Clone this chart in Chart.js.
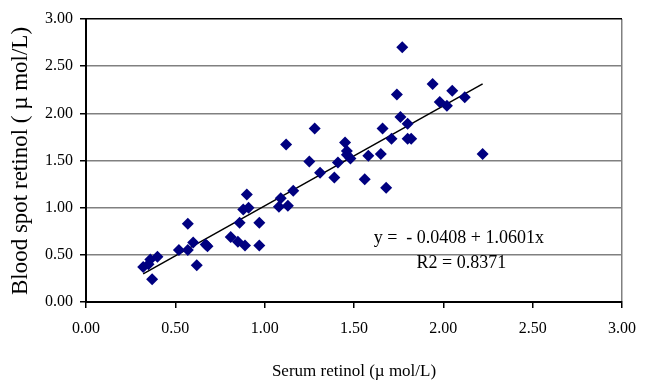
<!DOCTYPE html>
<html>
<head>
  <meta charset="utf-8">
  <title>Serum retinol vs blood spot retinol</title>
  <style>
    body { margin: 0; background: #fff; }
  </style>
</head>
<body>
<canvas id="myChart" width="647" height="383"></canvas>
<script src="https://cdn.jsdelivr.net/npm/chart.js"></script>
<script>
  // dane (µmol/L)
  const serumRetinol = [0.32, 0.35, 0.36, 0.40, 0.37, 0.52, 0.57, 0.57, 0.60, 0.62,
    0.67, 0.68, 0.81, 0.85, 0.86, 0.88, 0.91, 0.90, 0.97, 0.97,
    0.89, 1.08, 1.09, 1.13, 1.16, 1.12, 1.25, 1.28, 1.31, 1.39,
    1.41, 1.45, 1.46, 1.46, 1.48, 1.56, 1.58, 1.65, 1.66, 1.68,
    1.71, 1.74, 1.76, 1.77, 1.80, 1.80, 1.82, 1.94, 1.98, 2.02,
    2.05, 2.12, 2.22];
  const bloodSpotRetinol = [0.37, 0.40, 0.45, 0.48, 0.24, 0.55, 0.55, 0.83, 0.63, 0.39,
    0.61, 0.59, 0.69, 0.64, 0.84, 0.98, 1.00, 1.14, 0.84, 0.60,
    0.60, 1.01, 1.10, 1.02, 1.18, 1.67, 1.49, 1.84, 1.37, 1.32,
    1.48, 1.69, 1.60, 1.56, 1.52, 1.30, 1.55, 1.57, 1.84, 1.21,
    1.73, 2.20, 1.96, 2.70, 1.89, 1.73, 1.73, 2.31, 2.12, 2.08,
    2.24, 2.17, 1.57];
  const axisTicks = [0, 0.5, 1, 1.5, 2, 2.5, 3];

  // linia trendu z równania podanego na wykresie
  const fitIntercept = -0.0408;
  const fitSlope = 1.0601;
  const fitR2 = 0.8371;
  const fitRange = [0.32, 2.22];

  const points = serumRetinol.map((x, i) => ({ x: x, y: bloodSpotRetinol[i] }));
  const fitLine = fitRange.map(x => ({ x: x, y: fitIntercept + fitSlope * x }));

  const serif = 'Liberation Serif, Times New Roman, serif';
  const tickFont = { family: serif, size: 16 };

  function setTicks(scale) {
    scale.ticks = axisTicks.map(v => ({ value: v }));
  }

  // tekst równania i tytuł osi Y (rysowane ręcznie)
  const extraText = {
    id: 'extraText',
    afterDatasetsDraw(chart) {
      const ctx = chart.ctx;
      const xs = chart.scales.x, ys = chart.scales.y;
      ctx.save();
      ctx.fillStyle = '#000';
      ctx.font = '18px ' + serif;
      ctx.textAlign = 'left';
      ctx.textBaseline = 'middle';
      ctx.fillText('y =  - ' + Math.abs(fitIntercept).toFixed(4) + ' + ' + fitSlope.toFixed(4) + 'x',
        xs.getPixelForValue(1.61), ys.getPixelForValue(0.68));
      ctx.fillText('R2 = ' + fitR2.toFixed(4), xs.getPixelForValue(1.85), ys.getPixelForValue(0.41));

      ctx.translate(21, 161);
      ctx.rotate(-Math.PI / 2);
      ctx.font = '23px ' + serif;
      ctx.textAlign = 'center';
      ctx.fillText('Blood spot retinol ( µ mol/L)', 0, 0);
      ctx.restore();
    }
  };

  new Chart(document.getElementById('myChart'), {
    type: 'scatter',
    data: {
      datasets: [{
        label: 'Blood spot retinol',
        data: points,
        pointStyle: 'rectRot',
        pointRadius: 6,
        pointBackgroundColor: '#000080',
        pointBorderColor: '#000080',
        pointBorderWidth: 0
      }, {
        label: 'Fit',
        data: fitLine,
        showLine: true,
        pointRadius: 0,
        borderColor: '#000',
        borderWidth: 1.5
      }]
    },
    options: {
      responsive: false,
      animation: false,
      layout: { padding: { top: 19, right: 16, left: 0, bottom: 0 } },
      plugins: { legend: { display: false }, tooltip: { enabled: false } },
      scales: {
        x: {
          type: 'linear',
          min: 0,
          max: 3,
          afterBuildTicks: setTicks,
          afterFit: s => { s.height = 81; },
          ticks: { font: tickFont, color: '#000', padding: 11, maxRotation: 0,
            callback: v => v.toFixed(2) },
          grid: {
            color: c => c.tick && c.tick.value === 3 ? '#808080' : 'rgba(0,0,0,0)',
            lineWidth: 1.5,
            tickColor: '#000',
            tickLength: 6
          },
          border: { color: '#000', width: 2 },
          title: { display: true, text: 'Serum retinol (µ mol/L)', font: { family: serif, size: 17 },
            color: '#000', padding: { top: 4, bottom: 1 } }
        },
        y: {
          type: 'linear',
          min: 0,
          max: 3,
          afterBuildTicks: setTicks,
          afterFit: s => { s.width = 86; },
          ticks: { font: tickFont, color: '#000', padding: 7,
            callback: v => v.toFixed(2) },
          grid: {
            color: c => c.tick && c.tick.value === 3 ? '#000' : '#808080',
            lineWidth: 1.5,
            tickColor: '#000',
            tickLength: 6
          },
          border: { color: '#000', width: 2 },
          title: { display: false }
        }
      }
    },
    plugins: [extraText]
  });
</script>
</body>
</html>
